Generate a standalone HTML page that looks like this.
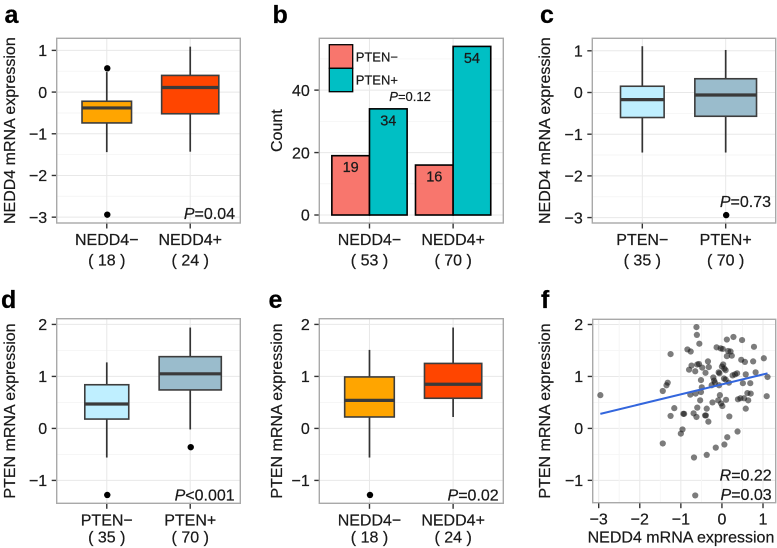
<!DOCTYPE html>
<html lang="en">
<head>
<meta charset="utf-8">
<title>NEDD4 and PTEN mRNA expression</title>
<style>
html,body{margin:0;padding:0;background:#fff;width:777px;height:548px;overflow:hidden}
svg{display:block;filter:blur(0.35px)}
text{font-family:"Liberation Sans",Arial,sans-serif;fill:#1a1a1a;stroke:#1a1a1a;stroke-width:0.22px}
</style>
</head>
<body>
<svg id="figure" width="777" height="548" viewBox="0 0 777 548" xmlns="http://www.w3.org/2000/svg"></svg>
<script>
/* ---------- panel a ---------- */
var aCategories = ['NEDD4\u2212', 'NEDD4+'];
var aCounts = [18, 24];
var aWhiskerLow = [-1.44, -1.43];
var aQ1 = [-0.74, -0.52];
var aMedian = [-0.38, 0.11];
var aQ3 = [-0.22, 0.40];
var aWhiskerHigh = [0.48, 1.09];
var aOutlierGroups = [0, 0];
var aOutlierValues = [0.57, -2.94];
var aYTicks = [-3, -2, -1, 0, 1];

/* ---------- panel b ---------- */
var bCategories = ['NEDD4\u2212', 'NEDD4+'];
var bTotals = [53, 70];
var bSeriesNames = ['PTEN\u2212', 'PTEN+'];
var bPtenNegative = [19, 16];
var bPtenPositive = [34, 54];
var bYTicks = [0, 20, 40];

/* ---------- panel c ---------- */
var cCategories = ['PTEN\u2212', 'PTEN+'];
var cCounts = [35, 70];
var cWhiskerLow = [-1.44, -1.44];
var cQ1 = [-0.60, -0.57];
var cMedian = [-0.17, -0.06];
var cQ3 = [0.15, 0.33];
var cWhiskerHigh = [1.11, 1.02];
var cOutlierGroups = [1];
var cOutlierValues = [-2.94];
var cYTicks = [-3, -2, -1, 0, 1];

/* ---------- panel d ---------- */
var dCategories = ['PTEN\u2212', 'PTEN+'];
var dCounts = [35, 70];
var dWhiskerLow = [-0.56, -0.02];
var dQ1 = [0.18, 0.74];
var dMedian = [0.47, 1.05];
var dQ3 = [0.84, 1.38];
var dWhiskerHigh = [1.27, 1.94];
var dOutlierGroups = [0, 1];
var dOutlierValues = [-1.28, -0.36];
var dYTicks = [-1, 0, 1, 2];

/* ---------- panel e ---------- */
var eCategories = ['NEDD4\u2212', 'NEDD4+'];
var eCounts = [18, 24];
var eWhiskerLow = [-0.56, 0.22];
var eQ1 = [0.22, 0.58];
var eMedian = [0.54, 0.85];
var eQ3 = [0.99, 1.25];
var eWhiskerHigh = [1.51, 1.94];
var eOutlierGroups = [0];
var eOutlierValues = [-1.28];
var eYTicks = [-1, 0, 1, 2];

/* ---------- panel f ---------- */
var fNedd4 = [-2.96,-1.44,-1.35,-1.32,-1.25,-1.25,-1.16,-1.44,-1.00,-0.96,-0.94,-0.92,-0.84,-0.76,-0.80,-0.74,-0.65,-0.60,-0.56,-0.48,-0.40,-0.34,-0.32,-0.51,-0.49,-0.51,-0.64,-0.77,-0.53,-0.60,-0.69,-0.62,-0.41,-0.39,-0.37,-0.33,-0.23,-0.09,-0.05,-0.02,0.01,0.10,0.18,0.38,0.13,0.06,-0.15,-0.37,-0.68,-0.65,-0.62,-0.61,-0.55,-0.13,-0.03,0.02,0.12,0.28,0.49,0.78,1.02,0.76,0.47,0.56,0.15,0.21,0.24,0.12,0.03,0,0.09,-0.06,-0.08,-0.21,-0.19,-0.17,-0.25,-0.07,0.05,0.09,0.17,0.26,0.32,0.37,0.58,0.82,0.51,0.69,1.11,1.09,0.70,0.62,0.64,0.54,0.45,0.39,0.58,0.06];
var fPten = [0.64,0.72,0.83,0.88,1.43,0.24,0.39,-0.29,-0.10,-0.02,0.28,0.28,1.52,1.48,1.13,1.21,1.10,1.23,1.24,1.17,1.07,1.29,1.18,0.93,0.79,0.70,0.67,0.65,0.54,0.40,0.29,0.22,0.25,0.25,0.38,0.13,0.50,0.54,0.64,0.48,0.43,0.55,0.23,-0.06,-0.17,-0.31,-0.37,-0.51,-0.56,-1.29,1.95,1.80,1.63,1.56,1.54,1.53,1.71,1.76,1.70,1.57,1.35,1.29,1.32,1.28,1.49,1.48,1.40,1.39,1.23,1.19,1.12,1.06,1.08,0.98,0.92,0.88,0.83,0.83,0.96,0.94,0.88,1.02,1.04,1.06,1.04,1.08,0.87,0.87,0.99,0.62,0.67,0.68,0.54,0.58,0.58,0.56,0.38,1.15];
var fFitNedd4 = [-2.96, 1.11];
var fFitPten = [0.28, 1.06];
var fXTicks = [-3, -2, -1, 0, 1];
var fYTicks = [-1, 0, 1, 2];

var SVG_NS = 'http://www.w3.org/2000/svg';
var root = document.getElementById('figure');

function make(parent, tag, attrs, content) {
  var el = document.createElementNS(SVG_NS, tag);
  for (var k in attrs) el.setAttribute(k, attrs[k]);
  if (content !== undefined) el.textContent = content;
  parent.appendChild(el);
  return el;
}
function fmt(v) { return v < 0 ? '\u2212' + Math.abs(v) : String(v); }
function linear(d0, d1, r0, r1) {
  return function (v) { return r0 + (v - d0) * (r1 - r0) / (d1 - d0); };
}
function discrete(left, right) {
  return function (i) { return left + (i + 0.6) * (right - left) / 2.2; };
}

function frame(name, box, yDomain, yTicks, yTitle, yTitleX, letter, letterX, letterY) {
  var g = make(root, 'g', {});
  
  
  var y = linear(yDomain[0], yDomain[1], box.b, box.t);
  var bg = make(g, 'rect', { x: box.l, y: box.t, width: box.r - box.l, height: box.b - box.t, fill: '#fff' });
  
  
  for (var i = 0; i < yTicks.length; i++) {
    var step = yTicks.length > 1 ? yTicks[1] - yTicks[0] : 1;
    var minorV = yTicks[i] - step / 2;
    [minorV, yTicks[i] + step / 2].forEach(function (mv) {
      if (mv > yDomain[0] && mv < yDomain[1]) {
        var ml = make(g, 'line', { x1: box.l, x2: box.r, y1: y(mv), y2: y(mv), stroke: '#f6f6f6', 'stroke-width': 0.8 });
        
        
      }
    });
  }
  yTicks.forEach(function (v) {
    var gl = make(g, 'line', { x1: box.l, x2: box.r, y1: y(v), y2: y(v), stroke: '#e8e8e8', 'stroke-width': 1 });
    
    
    var tk = make(g, 'line', { x1: box.l - 5, x2: box.l, y1: y(v), y2: y(v), stroke: '#333', 'stroke-width': 1.4 });
    
    
    var tl = make(g, 'text', { x: box.l - 9.5, y: y(v) + 5.7, 'text-anchor': 'end', 'font-size': 16 }, fmt(v));
    
    
  });
  var cy = (box.t + box.b) / 2;
  var yt = make(g, 'text', { x: yTitleX, y: cy, 'text-anchor': 'middle', 'font-size': 16, transform: 'rotate(-90 ' + yTitleX + ' ' + cy + ')' }, yTitle);
  
  
  var lt = make(g, 'text', { x: letterX, y: letterY, 'font-size': 25, 'font-weight': 'bold', style: 'fill:#000;stroke:#000' }, letter);
  
  
  return { g: g, y: y };
}

function border(g, box) {
  var b = make(g, 'rect', { x: box.l, y: box.t, width: box.r - box.l, height: box.b - box.t, fill: 'none', stroke: '#a9a9a9', 'stroke-width': 1.4 });
  
  
}

function catAxis(g, box, x, cats, counts, base1, base2) {
  cats.forEach(function (c, i) {
    var vg = make(g, 'line', { x1: x(i), x2: x(i), y1: box.t, y2: box.b, stroke: '#e8e8e8', 'stroke-width': 1 });
    
    
    var tk = make(g, 'line', { x1: x(i), x2: x(i), y1: box.b, y2: box.b + 5.5, stroke: '#333', 'stroke-width': 1.4 });
    
    
    var l1 = make(g, 'text', { x: x(i), y: base1, 'text-anchor': 'middle', 'font-size': 16 }, c);
    
    
    var l2 = make(g, 'text', { x: x(i), y: base2, 'text-anchor': 'middle', 'font-size': 16 }, '( ' + counts[i] + ' )');
    
    
  });
}

function boxplot(spec) {
  var box = spec.box;
  var f = frame(spec.name, box, spec.yDomain, spec.yTicks, spec.yTitle, spec.yTitleX, spec.letter, spec.letterX, spec.letterY);
  var g = f.g, y = f.y;
  var x = discrete(box.l, box.r);
  var unit = (box.r - box.l) / 2.2;
  var maxN = Math.max.apply(null, spec.counts);
  catAxis(g, box, x, spec.cats, spec.counts, spec.base1, spec.base2);
  spec.cats.forEach(function (c, i) {
    var w = spec.widthFactor * unit * Math.sqrt(spec.counts[i] / maxN);
    var wh = make(g, 'line', { x1: x(i), x2: x(i), y1: y(spec.q3[i]), y2: y(spec.hi[i]), stroke: '#333', 'stroke-width': 1.7 });
    
    
    var wl = make(g, 'line', { x1: x(i), x2: x(i), y1: y(spec.q1[i]), y2: y(spec.lo[i]), stroke: '#333', 'stroke-width': 1.7 });
    
    
    var r = make(g, 'rect', { x: x(i) - w / 2, y: y(spec.q3[i]), width: w, height: y(spec.q1[i]) - y(spec.q3[i]), fill: spec.fills[i], stroke: '#3d3d3d', 'stroke-width': 1.6 });
    
    
    var m = make(g, 'line', { x1: x(i) - w / 2, x2: x(i) + w / 2, y1: y(spec.med[i]), y2: y(spec.med[i]), stroke: '#3a3a3a', 'stroke-width': 3.2 });
    
    
  });
  spec.outGroups.forEach(function (gi, j) {
    var o = make(g, 'circle', { cx: x(gi) + 0.5, cy: y(spec.outValues[j]), r: 3.2, fill: '#000' });
    
    
  });
  border(g, box);
  pLabel(g, spec.pX, spec.pY, 'end', 16, 'P', spec.pText);
}

function pLabel(g, px, py, anchor, size, letter, rest) {
  var t = make(g, 'text', { x: px, y: py, 'text-anchor': anchor, 'font-size': size });
  
  
  make(t, 'tspan', { 'font-style': 'italic' }, letter);
  make(t, 'tspan', {}, rest);
}

var ORANGE = ['#FFA500', '#FF4500'];
var BLUES = ['#BFEFFF', '#9ABCCC'];

boxplot({ name: 'panel-a', box: { l: 56.7, r: 240.3, t: 38.3, b: 223 }, yDomain: [-3.14, 1.29], yTicks: aYTicks,
  yTitle: 'NEDD4 mRNA expression', yTitleX: 15, letter: 'a', letterX: 4.5, letterY: 23,
  cats: aCategories, counts: aCounts, lo: aWhiskerLow, q1: aQ1, med: aMedian, q3: aQ3, hi: aWhiskerHigh,
  outGroups: aOutlierGroups, outValues: aOutlierValues, fills: ORANGE, widthFactor: 0.685,
  base1: 245, base2: 265.5, pX: 235, pY: 219, pText: '=0.04' });

boxplot({ name: 'panel-c', box: { l: 592.3, r: 775.7, t: 38.3, b: 223 }, yDomain: [-3.13, 1.3], yTicks: cYTicks,
  yTitle: 'NEDD4 mRNA expression', yTitleX: 550, letter: 'c', letterX: 540, letterY: 23,
  cats: cCategories, counts: cCounts, lo: cWhiskerLow, q1: cQ1, med: cMedian, q3: cQ3, hi: cWhiskerHigh,
  outGroups: cOutlierGroups, outValues: cOutlierValues, fills: BLUES, widthFactor: 0.74,
  base1: 245, base2: 265.5, pX: 771, pY: 207, pText: '=0.73' });

boxplot({ name: 'panel-d', box: { l: 56.7, r: 240.3, t: 318.7, b: 503.3 }, yDomain: [-1.44, 2.11], yTicks: dYTicks,
  yTitle: 'PTEN mRNA expression', yTitleX: 15, letter: 'd', letterX: 1, letterY: 308,
  cats: dCategories, counts: dCounts, lo: dWhiskerLow, q1: dQ1, med: dMedian, q3: dQ3, hi: dWhiskerHigh,
  outGroups: dOutlierGroups, outValues: dOutlierValues, fills: BLUES, widthFactor: 0.745,
  base1: 525.5, base2: 542.3, pX: 234.7, pY: 500.7, pText: '<0.001' });

boxplot({ name: 'panel-e', box: { l: 319.3, r: 503.3, t: 318.7, b: 503.3 }, yDomain: [-1.44, 2.11], yTicks: eYTicks,
  yTitle: 'PTEN mRNA expression', yTitleX: 282, letter: 'e', letterX: 268.5, letterY: 308,
  cats: eCategories, counts: eCounts, lo: eWhiskerLow, q1: eQ1, med: eMedian, q3: eQ3, hi: eWhiskerHigh,
  outGroups: eOutlierGroups, outValues: eOutlierValues, fills: ORANGE, widthFactor: 0.685,
  base1: 525.5, base2: 542.3, pX: 498.7, pY: 500.7, pText: '=0.02' });

/* bar chart (panel b) */
(function () {
  var box = { l: 319.3, r: 503.3, t: 38.3, b: 223 };
  var f = frame('panel-b', box, [-2.56, 56.6], bYTicks, 'Count', 282, 'b', 272.5, 23);
  var g = f.g, y = f.y;
  var x = discrete(box.l, box.r);
  var unit = (box.r - box.l) / 2.2;
  catAxis(g, box, x, bCategories, bTotals, 245, 265.5);
  var barW = 0.45 * unit;
  bCategories.forEach(function (c, i) {
    var r1 = make(g, 'rect', { x: x(i) - barW, y: y(bPtenNegative[i]), width: barW, height: y(0) - y(bPtenNegative[i]), fill: '#F8766D', stroke: '#000', 'stroke-width': 1.6 });
    
    
    var r2 = make(g, 'rect', { x: x(i), y: y(bPtenPositive[i]), width: barW, height: y(0) - y(bPtenPositive[i]), fill: '#00BFC4', stroke: '#000', 'stroke-width': 1.6 });
    
    
    var t1 = make(g, 'text', { x: x(i) - barW / 2, y: y(bPtenNegative[i]) + 16.5, 'text-anchor': 'middle', 'font-size': 14.5 }, String(bPtenNegative[i]));
    
    
    var t2 = make(g, 'text', { x: x(i) + barW / 2, y: y(bPtenPositive[i]) + 16.5, 'text-anchor': 'middle', 'font-size': 14.5 }, String(bPtenPositive[i]));
    
    
  });
  var k1 = make(g, 'rect', { x: 329.3, y: 44.7, width: 23.4, height: 23.6, fill: '#F8766D', stroke: '#000', 'stroke-width': 1.3 });
  
  
  var k2 = make(g, 'rect', { x: 329.3, y: 68.3, width: 23.4, height: 23.4, fill: '#00BFC4', stroke: '#000', 'stroke-width': 1.3 });
  
  
  var l1 = make(g, 'text', { x: 355.7, y: 61.7, 'font-size': 13 }, bSeriesNames[0]);
  
  
  var l2 = make(g, 'text', { x: 355.7, y: 84.3, 'font-size': 13 }, bSeriesNames[1]);
  
  
  border(g, box);
  pLabel(g, 389.3, 101, 'start', 13, 'P', '=0.12');
})();

/* scatter plot (panel f) */
(function () {
  var box = { l: 592.7, r: 775.7, t: 319.3, b: 502.7 };
  var f = frame('panel-f', box, [-1.43, 2.1], fYTicks, 'PTEN mRNA expression', 550, 'f', 541, 308);
  var g = f.g, y = f.y;
  var x = linear(-3.146, 1.309, box.l, box.r);
  fXTicks.forEach(function (v) {
    [v - 0.5, v + 0.5].forEach(function (mv) {
      if (mv > -3.146 && mv < 1.309) {
        var ml = make(g, 'line', { x1: x(mv), x2: x(mv), y1: box.t, y2: box.b, stroke: '#f6f6f6', 'stroke-width': 0.8 });
        
        
      }
    });
  });
  fXTicks.forEach(function (v) {
    var gl = make(g, 'line', { x1: x(v), x2: x(v), y1: box.t, y2: box.b, stroke: '#e8e8e8', 'stroke-width': 1 });
    
    
    var tk = make(g, 'line', { x1: x(v), x2: x(v), y1: box.b, y2: box.b + 5.5, stroke: '#333', 'stroke-width': 1.4 });
    
    
    var tl = make(g, 'text', { x: x(v), y: 524.5, 'text-anchor': 'middle', 'font-size': 16 }, fmt(v));
    
    
  });
  var xt = make(g, 'text', { x: 681, y: 542.5, 'text-anchor': 'middle', 'font-size': 16 }, 'NEDD4 mRNA expression');
  
  
  fNedd4.forEach(function (v, i) {
    var c = make(g, 'circle', { cx: x(v), cy: y(fPten[i]), r: 3.1, fill: '#111', 'fill-opacity': 0.55 });
    
    
  });
  var fit = make(g, 'line', { x1: x(fFitNedd4[0]), y1: y(fFitPten[0]), x2: x(fFitNedd4[1]), y2: y(fFitPten[1]), stroke: '#3366DD', 'stroke-width': 2 });
  
  
  border(g, box);
  pLabel(g, 771.7, 480.3, 'end', 16, 'R', '=0.22');
  pLabel(g, 771.7, 500, 'end', 16, 'P', '=0.03');
})();
</script>
</body>
</html>
